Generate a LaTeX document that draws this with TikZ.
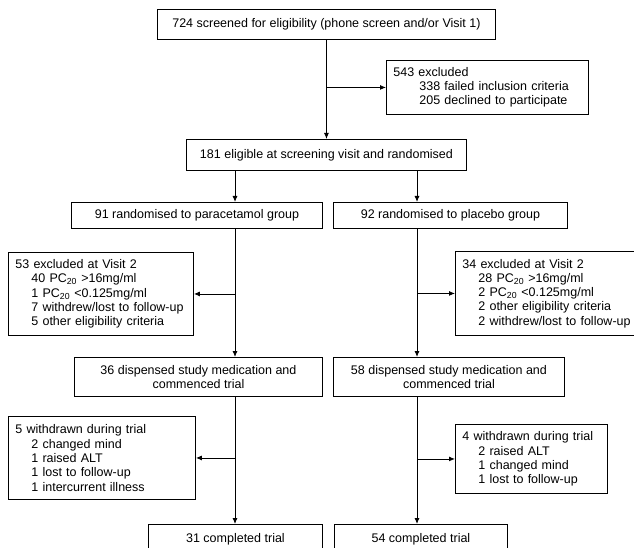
\documentclass[tikz,border=0pt]{standalone}
\usepackage{fontspec}
\setmainfont{Liberation Sans}
\usetikzlibrary{arrows.meta}

\tikzset{
  box/.style={draw, rectangle, line width=0.9pt, inner sep=0pt, align=center, anchor=north west},
  notebox/.style={draw, rectangle, line width=0.9pt, inner xsep=7pt, inner ysep=0pt, align=left, anchor=north west},
  flow/.style={line width=0.9pt, -{Latex[length=6pt,width=5pt]}},
}

\begin{document}
\begin{tikzpicture}[x=1pt, y=-1pt, font=\fontsize{12.5pt}{14.3pt}\selectfont]

    % Frame
    \clip (0,0) rectangle (634,548);

    % Columns
    \coordinate (colL) at (235,0);
    \coordinate (colR) at (417,0);

    % Screening
    \node[box, minimum width=338pt, minimum height=30pt] (screen) at (157,9) {724 screened for eligibility (phone screen and/or Visit 1)};
    \node[notebox, text width=188pt, minimum height=54pt] (excl1) at (386,60) {543 excluded\\\hspace*{26pt}338 failed inclusion criteria\\\hspace*{26pt}205 declined to participate};
    \node[box, minimum width=280pt, minimum height=31pt] (elig) at (186,139) {181 eligible at screening visit and randomised};

    \draw[flow] (screen.south) -- (screen.south |- elig.north);
    \draw[flow] (screen.south |- excl1.west) -- (excl1.west);

    % Randomisation
    \node[box, minimum width=251pt, minimum height=26pt] (grpA) at (71,202) {91 randomised to paracetamol group};
    \node[box, minimum width=234pt, minimum height=26pt] (grpB) at (333,202) {92 randomised to placebo group};

    \draw[flow] (colL |- elig.south) -- (colL |- grpA.north);
    \draw[flow] (colR |- elig.south) -- (colR |- grpB.north);

    % Visit 2 exclusions
    \node[notebox, text width=171pt, minimum height=83pt] (excl2) at (8,252) {53 excluded at Visit 2\\\hspace*{16pt}40 PC\textsubscript{20} >16mg/ml\\\hspace*{16pt}1 PC\textsubscript{20} <0.125mg/ml\\\hspace*{16pt}7 withdrew/lost to follow-up\\\hspace*{16pt}5 other eligibility criteria};
    \node[notebox, text width=172pt, minimum height=84pt] (excl3) at (455,251) {34 excluded at Visit 2\\\hspace*{16pt}28 PC\textsubscript{20} >16mg/ml\\\hspace*{16pt}2 PC\textsubscript{20} <0.125mg/ml\\\hspace*{16pt}2 other eligibility criteria\\\hspace*{16pt}2 withdrew/lost to follow-up};

    \draw[flow] (colL |- excl2.east) -- (excl2.east);
    \draw[flow] (colR |- excl3.west) -- (excl3.west);

    % Dispensed
    \node[box, minimum width=248pt, minimum height=39pt] (dispA) at (74,357) {36 dispensed study medication and\\commenced trial};
    \node[box, minimum width=231pt, minimum height=39pt] (dispB) at (333,357) {58 dispensed study medication and\\commenced trial};

    \draw[flow] (colL |- grpA.south) -- (colL |- dispA.north);
    \draw[flow] (colR |- grpB.south) -- (colR |- dispB.north);

    % Withdrawals
    \node[notebox, text width=173pt, minimum height=83pt] (wdA) at (8,416) {5 withdrawn during trial\\\hspace*{16pt}2 changed mind\\\hspace*{16pt}1 raised ALT\\\hspace*{16pt}1 lost to follow-up\\\hspace*{16pt}1 intercurrent illness};
    \node[notebox, text width=138pt, minimum height=69pt] (wdB) at (455,424) {4 withdrawn during trial\\\hspace*{16pt}2 raised ALT\\\hspace*{16pt}1 changed mind\\\hspace*{16pt}1 lost to follow-up};

    \draw[flow] (colL |- wdA.east) -- (wdA.east);
    \draw[flow] (colR |- wdB.west) -- (wdB.west);

    % Completed
    \node[box, minimum width=174pt, minimum height=30pt] (compA) at (148,524) {31 completed trial};
    \node[box, minimum width=173pt, minimum height=30pt] (compB) at (334,524) {54 completed trial};

    \draw[flow] (colL |- dispA.south) -- (colL |- compA.north);
    \draw[flow] (colR |- dispB.south) -- (colR |- compB.north);

\end{tikzpicture}
\end{document}
